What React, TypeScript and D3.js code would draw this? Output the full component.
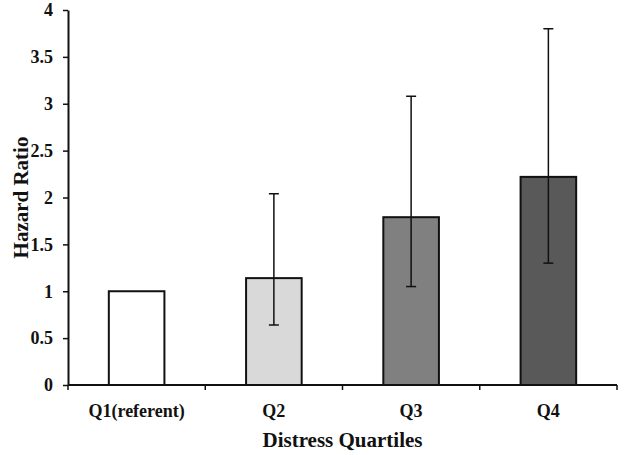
import React, { useEffect, useRef } from 'react';
import * as d3 from 'd3';

// values
const categories = ['Q1(referent)', 'Q2', 'Q3', 'Q4'];
const hazardRatio = [1.0, 1.14, 1.79, 2.22];
const ciLower = [null, 0.64, 1.05, 1.3];
const ciUpper = [null, 2.04, 3.08, 3.8];
const barColors = ['#ffffff', '#d9d9d9', '#808080', '#595959'];
const yTicks = [0, 0.5, 1, 1.5, 2, 2.5, 3, 3.5, 4];

const App = () => {
  const svgRef = useRef<SVGSVGElement>(null);

  useEffect(() => {
    const margin = { top: 10, right: 7, bottom: 70, left: 68 };
    const W = 624;
    const H = 455;
    const width = W - margin.left - margin.right;
    const height = H - margin.top - margin.bottom;
    const font = '"Liberation Serif", "Times New Roman", serif';

    const root = d3.select(svgRef.current);
    root.selectAll('*').remove();
    const svg = root.append('g').attr('transform', `translate(${margin.left},${margin.top})`);

    const x = d3.scaleBand().domain(categories).range([0, width]).paddingInner(0).paddingOuter(0);
    const y = d3.scaleLinear().domain([0, 4]).range([height, 0]);
    const barW = x.bandwidth() * 0.405;

    // bars
    svg.selectAll('rect.bar')
      .data(categories)
      .join('rect')
      .attr('class', 'bar')
      .attr('x', d => (x(d) as number) + x.bandwidth() / 2 - barW / 2)
      .attr('width', barW)
      .attr('y', (d, i) => y(hazardRatio[i]))
      .attr('height', (d, i) => height - y(hazardRatio[i]))
      .attr('fill', (d, i) => barColors[i])
      .attr('stroke', '#111')
      .attr('stroke-width', 2);

    // error bars
    const eb = svg.append('g');
    categories.forEach((c, i) => {
      if (ciLower[i] == null) return;
      const cx = (x(c) as number) + x.bandwidth() / 2;
      const lo = y(ciLower[i] as number);
      const hi = y(ciUpper[i] as number);
      eb.append('line').attr('x1', cx).attr('x2', cx).attr('y1', lo).attr('y2', hi)
        .attr('stroke', '#111').attr('stroke-width', 1.5);
      [lo, hi].forEach(v => {
        eb.append('line').attr('x1', cx - 5).attr('x2', cx + 5).attr('y1', v).attr('y2', v)
          .attr('stroke', '#111').attr('stroke-width', 1.5);
      });
    });

    // y axis
    const yAxis = svg.append('g')
      .call(d3.axisLeft(y).tickValues(yTicks).tickSize(5).tickSizeOuter(0).tickFormat(d3.format('')));
    yAxis.select('.domain').attr('stroke', '#111').attr('stroke-width', 2);
    yAxis.selectAll('.tick line').attr('stroke', '#111').attr('stroke-width', 1.5);
    yAxis.selectAll('.tick text')
      .attr('x', -15)
      .style('font-family', font)
      .style('font-size', '18px')
      .style('font-weight', 'bold')
      .attr('fill', '#111');

    // x axis with ticks at category boundaries
    const xg = svg.append('g').attr('transform', `translate(0,${height})`);
    xg.append('line').attr('x1', 0).attr('x2', width).attr('stroke', '#111').attr('stroke-width', 2);
    d3.range(categories.length + 1).forEach(i => {
      const tx = i * x.bandwidth();
      xg.append('line').attr('x1', tx).attr('x2', tx).attr('y1', 0).attr('y2', 5)
        .attr('stroke', '#111').attr('stroke-width', 1.5);
    });
    xg.selectAll('text.cat')
      .data(categories)
      .join('text')
      .attr('class', 'cat')
      .attr('x', d => (x(d) as number) + x.bandwidth() / 2)
      .attr('y', 32)
      .attr('text-anchor', 'middle')
      .style('font-family', font)
      .style('font-size', '18px')
      .style('font-weight', 'bold')
      .attr('fill', '#111')
      .text(d => d);

    // axis titles
    svg.append('text')
      .attr('x', width / 2)
      .attr('y', height + 62)
      .attr('text-anchor', 'middle')
      .style('font-family', font)
      .style('font-size', '21px')
      .style('font-weight', 'bold')
      .attr('fill', '#111')
      .text('Distress Quartiles');

    svg.append('text')
      .attr('transform', `translate(${-40},${height / 2}) rotate(-90)`)
      .attr('text-anchor', 'middle')
      .style('font-family', font)
      .style('font-size', '21px')
      .style('font-weight', 'bold')
      .attr('fill', '#111')
      .text('Hazard Ratio');
  }, []);

  return (
    <svg
      ref={svgRef}
      width={624}
      height={455}
      style={{ position: 'absolute', left: 0, top: 0, background: '#fff' }}
    />
  );
};

export default App;
